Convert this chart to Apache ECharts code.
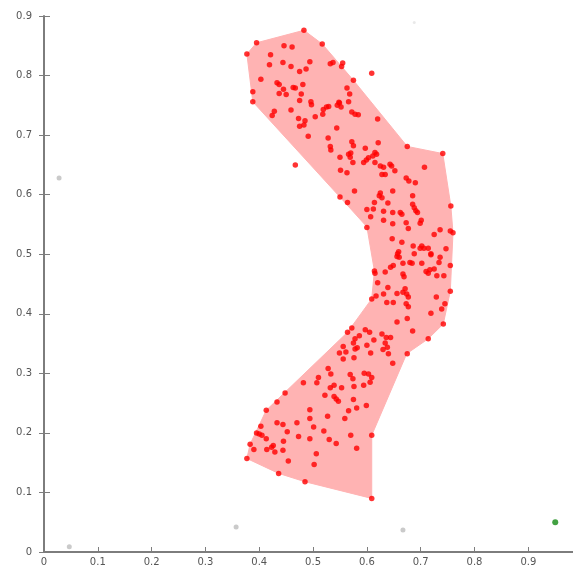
<!DOCTYPE html>
<html>
<head>
<meta charset="utf-8">
<script src="https://cdn.jsdelivr.net/npm/echarts@6/dist/echarts.min.js"></script>
<style>
html,body{margin:0;padding:0;background:#fff;}
#chart{width:573px;height:571px;}
</style>
</head>
<body>
<div id="chart"></div>
<script>
// Tick labels
const xTicks = [0, 0.1, 0.2, 0.3, 0.4, 0.5, 0.6, 0.7, 0.8, 0.9];
const yTicks = [0, 0.1, 0.2, 0.3, 0.4, 0.5, 0.6, 0.7, 0.8, 0.9];

// Shaded region outline (vertices)
const hullPoints = [
  [0.377,0.836],[0.395,0.855],[0.483,0.876],[0.517,0.853],[0.575,0.792],[0.675,0.681],
  [0.741,0.669],[0.756,0.581],[0.760,0.536],[0.755,0.438],[0.742,0.383],[0.714,0.358],
  [0.674,0.333],[0.609,0.196],[0.609,0.090],[0.485,0.118],[0.436,0.132],[0.377,0.157],
  [0.383,0.181],[0.413,0.238],[0.564,0.369],[0.609,0.425],[0.614,0.472],[0.600,0.546],
  [0.550,0.596],[0.388,0.756]
];

// Red cluster points
const redPoints = [
  [0.483,0.876],[0.395,0.855],[0.377,0.836],[0.446,0.850],[0.461,0.848],[0.517,0.853],[0.421,0.835],
  [0.419,0.818],[0.444,0.822],[0.459,0.815],[0.475,0.807],[0.487,0.811],[0.494,0.823],[0.532,0.820],
  [0.537,0.822],[0.555,0.821],[0.553,0.815],[0.609,0.804],[0.575,0.792],[0.403,0.794],[0.388,0.773],
  [0.388,0.756],[0.433,0.788],[0.437,0.785],[0.445,0.777],[0.437,0.770],[0.450,0.768],[0.463,0.780],
  [0.467,0.779],[0.481,0.785],[0.478,0.769],[0.475,0.758],[0.496,0.756],[0.497,0.751],[0.563,0.779],
  [0.568,0.769],[0.566,0.756],[0.548,0.755],[0.545,0.750],[0.529,0.748],[0.519,0.743],[0.518,0.735],
  [0.504,0.731],[0.428,0.740],[0.424,0.733],[0.459,0.742],[0.473,0.728],[0.485,0.724],[0.475,0.715],
  [0.544,0.712],[0.572,0.739],[0.578,0.735],[0.584,0.734],[0.620,0.727],[0.491,0.698],[0.528,0.695],
  [0.532,0.681],[0.533,0.675],[0.467,0.650],[0.550,0.663],[0.572,0.689],[0.575,0.682],[0.566,0.668],
  [0.569,0.663],[0.570,0.670],[0.574,0.654],[0.597,0.678],[0.525,0.747],[0.549,0.754],[0.552,0.747],
  [0.483,0.717],[0.621,0.687],[0.675,0.681],[0.741,0.669],[0.611,0.665],[0.615,0.671],[0.618,0.668],
  [0.615,0.654],[0.594,0.654],[0.599,0.658],[0.603,0.662],[0.625,0.648],[0.631,0.646],[0.634,0.634],
  [0.628,0.634],[0.643,0.651],[0.646,0.648],[0.652,0.640],[0.707,0.646],[0.551,0.641],[0.563,0.637],
  [0.673,0.628],[0.678,0.623],[0.690,0.620],[0.577,0.606],[0.648,0.606],[0.550,0.596],[0.564,0.587],
  [0.625,0.603],[0.623,0.598],[0.628,0.595],[0.614,0.587],[0.639,0.586],[0.685,0.598],[0.685,0.584],
  [0.688,0.578],[0.691,0.573],[0.694,0.570],[0.600,0.575],[0.612,0.576],[0.631,0.572],[0.648,0.570],
  [0.662,0.570],[0.665,0.567],[0.756,0.581],[0.607,0.563],[0.631,0.557],[0.648,0.551],[0.673,0.553],
  [0.677,0.543],[0.701,0.557],[0.699,0.552],[0.600,0.545],[0.736,0.541],[0.755,0.539],[0.760,0.536],
  [0.725,0.533],[0.647,0.526],[0.665,0.520],[0.686,0.514],[0.699,0.510],[0.706,0.510],[0.747,0.509],
  [0.702,0.514],[0.714,0.510],[0.719,0.501],[0.659,0.504],[0.656,0.496],[0.736,0.495],
  [0.657,0.501],[0.660,0.495],[0.688,0.501],[0.719,0.499],[0.667,0.485],[0.680,0.486],[0.684,0.485],
  [0.702,0.485],[0.734,0.486],[0.755,0.481],[0.649,0.481],[0.644,0.478],[0.614,0.472],[0.615,0.468],
  [0.634,0.470],[0.667,0.467],[0.669,0.462],[0.710,0.471],[0.714,0.468],[0.717,0.474],[0.725,0.475],
  [0.730,0.464],[0.743,0.464],[0.620,0.452],[0.639,0.444],[0.656,0.434],[0.667,0.436],[0.671,0.442],
  [0.674,0.433],[0.677,0.428],[0.631,0.433],[0.617,0.430],[0.609,0.425],[0.637,0.419],[0.649,0.419],
  [0.673,0.417],[0.677,0.412],[0.729,0.428],[0.755,0.438],[0.745,0.417],[0.739,0.408],[0.719,0.401],
  [0.656,0.386],[0.675,0.392],[0.742,0.383],[0.685,0.371],[0.714,0.358],
  [0.572,0.376],[0.564,0.369],[0.597,0.373],[0.605,0.369],[0.628,0.366],[0.636,0.360],[0.644,0.360],
  [0.586,0.363],[0.578,0.358],[0.575,0.351],[0.613,0.356],[0.600,0.347],[0.634,0.351],[0.638,0.344],
  [0.630,0.340],[0.556,0.345],[0.549,0.334],[0.561,0.336],[0.578,0.341],[0.582,0.343],[0.607,0.334],
  [0.640,0.333],[0.675,0.333],[0.576,0.326],[0.556,0.324],[0.648,0.317],[0.528,0.308],[0.533,0.299],
  [0.569,0.298],[0.595,0.300],[0.603,0.299],[0.574,0.291],[0.609,0.293],[0.510,0.293],
  [0.576,0.278],[0.606,0.285],[0.594,0.280],[0.507,0.284],[0.482,0.284],[0.532,0.276],[0.539,0.280],
  [0.553,0.276],[0.448,0.267],[0.522,0.263],[0.539,0.261],[0.543,0.257],[0.547,0.253],[0.575,0.256],
  [0.433,0.252],[0.413,0.238],[0.494,0.239],[0.566,0.237],[0.581,0.242],[0.599,0.246],[0.527,0.228],
  [0.494,0.224],[0.559,0.224],[0.403,0.211],[0.433,0.217],[0.444,0.214],[0.470,0.217],[0.501,0.210],
  [0.520,0.203],[0.452,0.202],[0.395,0.200],[0.400,0.198],[0.405,0.196],[0.413,0.190],[0.473,0.194],
  [0.494,0.190],[0.530,0.189],[0.543,0.182],[0.570,0.196],[0.609,0.196],[0.383,0.181],[0.390,0.172],
  [0.426,0.179],[0.423,0.176],[0.414,0.172],[0.445,0.186],[0.429,0.168],[0.444,0.171],[0.581,0.174],
  [0.506,0.165],[0.454,0.153],[0.502,0.147],[0.377,0.157],[0.436,0.132],[0.485,0.118],[0.609,0.090]
];

// Other points
const grayPoints = [[0.028,0.628],[0.047,0.009],[0.357,0.042],[0.667,0.037]];
const greenPoints = [[0.950,0.050]];
const faintPoints = [[0.688,0.889]];

const axisColor = '#7d7d7d';
const labelStyle = {color:'#555', fontSize:10, fontFamily:'DejaVu Sans'};

const chart = echarts.init(document.getElementById('chart'), null, {renderer:'canvas'});
chart.setOption({
  animation:false,
  backgroundColor:'#fff',
  grid:{left:44, right:0, top:16, bottom:19, containLabel:false},
  xAxis:{
    type:'value', min:0, max:0.983, interval:0.1,
    axisLine:{show:true, lineStyle:{color:axisColor, width:2}},
    axisTick:{show:true, inside:true, length:5, customValues:xTicks, lineStyle:{color:axisColor, width:1}},
    axisLabel:{...labelStyle, margin:5, customValues:xTicks, formatter:v=>String(v)},
    splitLine:{show:false}
  },
  yAxis:[{
    type:'value', min:0, max:0.9, interval:0.1,
    axisLine:{show:true, lineStyle:{color:axisColor, width:2}},
    axisTick:{show:true, inside:true, length:6, lineStyle:{color:axisColor, width:1}},
    axisLabel:{...labelStyle, margin:12, formatter:v=>String(+v.toFixed(1))},
    splitLine:{show:false}
  },{
    type:'value', min:0, max:0.9, interval:0.1, position:'left',
    axisLine:{show:false},
    axisTick:{show:true, inside:false, length:5, lineStyle:{color:axisColor, width:1}},
    axisLabel:{show:false},
    splitLine:{show:false}
  }],
  series:[
    {
      type:'custom',
      silent:true,
      z:1,
      data:[0],
      renderItem:function(params, api){
        const pts = hullPoints.map(p => api.coord(p));
        return {type:'polygon', shape:{points:pts}, style:{fill:'#ffb3b3', stroke:'#ffb3b3', lineWidth:1}};
      }
    },
    {type:'scatter', z:3, data:redPoints, symbolSize:5.5, itemStyle:{color:'#ff0000'}},
    {type:'scatter', z:3, data:grayPoints, symbolSize:5, itemStyle:{color:'#bdbdbd'}},
    {type:'scatter', z:3, data:greenPoints, symbolSize:6, itemStyle:{color:'#138a13'}},
    {type:'scatter', z:3, data:faintPoints, symbolSize:3, itemStyle:{color:'#e4e4e4'}}
  ]
});
</script>
</body>
</html>
